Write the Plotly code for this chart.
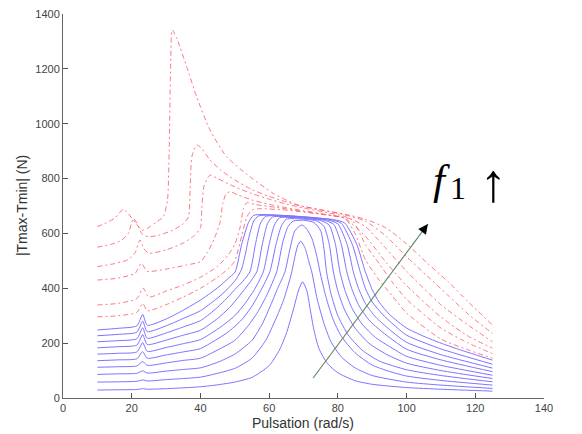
import plotly.graph_objects as go

# ---------------- data ----------------
x_ticks = [0, 20, 40, 60, 80, 100, 120, 140]
y_ticks = [0, 200, 400, 600, 800, 1000, 1200, 1400]

# solid curves (low forcing), S1 .. S10
s1_x = [10, 16, 21.5, 23.2, 24.5, 30, 35, 40, 45, 50, 55, 60, 63, 65, 67, 68.5, 69.7, 71, 72, 73, 74.5, 77, 80, 85, 90, 100, 110, 125]
s1_y = [29, 30, 31, 34, 32, 34, 37, 41, 48, 58, 75, 118, 175, 235, 320, 390, 424, 390, 320, 250, 180, 125, 92, 63, 50, 38, 32, 25]
s2_x = [10, 16, 21.5, 23.2, 24.5, 30, 35, 40, 45, 50, 55, 59, 62, 64, 65.5, 66.5, 67.5, 68.3, 69.2, 70.5, 71.5, 72.4, 74, 76, 78, 81, 85, 90, 100, 110, 125]
s2_y = [58, 59, 61, 66, 62, 67, 71, 76, 90, 108, 145, 210, 290, 350, 410, 455, 515, 555, 572, 545, 500, 460, 360, 270, 205, 150, 110, 82, 58, 47, 35]
s3_x = [10, 16, 21.5, 23.2, 24.5, 30, 35, 40, 45, 50, 55, 58, 60.5, 62.5, 64.6, 66, 67.5, 69.5, 71, 72.5, 74, 74.8, 76.5, 78.5, 81, 85, 90, 95, 100, 110, 125]
s3_y = [86, 88, 90, 99, 91, 98, 104, 110, 130, 160, 210, 270, 340, 400, 460, 540, 610, 631, 615, 580, 510, 460, 370, 290, 225, 165, 120, 97, 80, 64, 47]
s4_x = [10, 16, 21.5, 23.2, 24.5, 30, 35, 40, 45, 50, 54, 57, 59.5, 62.2, 64, 65.5, 67, 70, 73, 75, 76, 76.7, 78, 80, 83, 87, 92, 100, 110, 125]
s4_y = [112, 114, 117, 133, 119, 128, 137, 145, 175, 210, 265, 320, 380, 460, 570, 625, 645, 648, 640, 610, 540, 460, 380, 300, 230, 175, 135, 103, 82, 59]
s5_x = [10, 16, 21.5, 23.2, 24.5, 30, 35, 40, 44, 48, 52, 55, 57.5, 60.2, 62, 63.5, 65, 70, 74, 76, 77.5, 78.7, 80, 82, 85, 89, 94, 100, 110, 125]
s5_y = [136, 139, 143, 169, 145, 157, 168, 180, 208, 240, 285, 335, 390, 460, 560, 625, 652, 652, 645, 625, 560, 460, 390, 320, 255, 200, 160, 127, 100, 71]
s6_x = [10, 16, 21.5, 23.2, 24.5, 30, 35, 40, 46, 50, 53, 55.7, 58.3, 60, 61.5, 63, 70, 75, 77.5, 79.3, 80.6, 82, 84, 87, 91, 95, 100, 110, 125]
s6_y = [160, 163, 168, 202, 170, 184, 198, 213, 260, 300, 345, 395, 460, 560, 630, 657, 655, 647, 630, 560, 460, 395, 330, 270, 220, 188, 152, 119, 83]
s7_x = [10, 16, 21.5, 23.2, 24.5, 30, 35, 40, 45, 48.5, 51.5, 54, 56.4, 58, 59.5, 61, 70, 76, 78.8, 81, 82.6, 84, 86, 89, 93, 100, 110, 125]
s7_y = [183, 187, 193, 231, 195, 211, 229, 247, 290, 330, 375, 415, 460, 560, 635, 660, 657, 648, 633, 560, 460, 400, 340, 285, 240, 178, 139, 96]
s8_x = [10, 16, 21.5, 23.2, 24.5, 30, 35, 40, 44, 47, 50, 52.3, 54.4, 56, 57.5, 59, 70, 77, 80, 82.7, 84.5, 86, 88, 91, 95, 100, 110, 125]
s8_y = [205, 209, 216, 256, 218, 237, 259, 282, 320, 355, 395, 425, 460, 560, 638, 662, 659, 649, 635, 560, 460, 400, 345, 295, 250, 203, 158, 109]
s9_x = [10, 16, 21.5, 23.2, 24.5, 30, 35, 40, 43, 46, 48.5, 50.5, 52, 53, 54, 55.5, 57, 70, 78, 81, 84.2, 86.5, 88, 90, 93, 96, 100, 110, 125]
s9_y = [227, 232, 240, 280, 242, 263, 290, 318, 345, 375, 405, 435, 470, 520, 580, 645, 664, 661, 650, 637, 560, 460, 400, 350, 305, 270, 229, 179, 123]
s10_x = [10, 16, 21.5, 23.2, 24.5, 30, 35, 40, 43, 46, 48, 50.1, 52, 54, 55.5, 65, 72, 79, 82, 85.5, 88, 90, 92, 95, 100, 105, 110, 115, 120, 125]
s10_y = [248, 254, 263, 305, 265, 288, 320, 357, 383, 412, 435, 460, 560, 640, 666, 665, 658, 650, 638, 560, 460, 395, 350, 305, 255, 225, 200, 178, 158, 138]

# dash-dotted curves (high forcing), D1 .. D6
d1_x = [10, 16, 21.5, 23.2, 24.5, 30, 35, 40, 45, 48, 50, 52, 53.5, 55, 57, 65, 75, 82, 85, 88, 92, 96, 100, 110, 118, 125]
d1_y = [296, 300, 312, 345, 318, 340, 368, 400, 440, 470, 500, 590, 660, 685, 690, 685, 670, 655, 600, 505, 430, 370, 310, 215, 175, 145]
d2_x = [10, 16, 21.5, 23.3, 25, 30, 35, 40, 45, 48, 50, 51.5, 52.5, 53.5, 56, 62, 70, 78, 84, 88, 92, 96, 100, 110, 118, 125]
d2_y = [339, 345, 362, 401, 368, 390, 412, 440, 480, 520, 560, 620, 690, 712, 705, 695, 680, 665, 650, 560, 490, 420, 360, 255, 200, 162]
d3_x = [10, 16, 21, 22.8, 24.5, 30, 36, 40, 42, 44, 45.7, 46.5, 47.5, 48.6, 51, 55, 60, 65, 70, 76, 82, 88, 94, 100, 110, 118, 125]
d3_y = [430, 437, 455, 491, 462, 470, 485, 497, 530, 580, 640, 710, 745, 752, 740, 722, 706, 694, 683, 670, 655, 590, 495, 410, 295, 225, 182]
d4_x = [10, 15, 19, 21, 22.4, 23.5, 25, 30, 35, 38, 40, 40.4, 41, 42.8, 45, 50, 55, 60, 65, 70, 76, 82, 88, 94, 100, 110, 118, 125]
d4_y = [479, 490, 505, 530, 576, 545, 528, 540, 565, 590, 620, 690, 770, 813, 800, 770, 745, 725, 707, 693, 678, 662, 625, 545, 462, 340, 265, 205]
d5_x = [10, 14, 17, 19, 20.5, 21.8, 23, 25, 28, 32, 35, 36.5, 37, 37.5, 38.9, 40, 42.8, 46, 50, 55, 60, 65, 70, 76, 82, 88, 94, 100, 106, 112, 118, 125]
d5_y = [550, 560, 575, 600, 655, 630, 598, 588, 594, 612, 635, 660, 760, 880, 922, 915, 868, 830, 795, 760, 735, 715, 698, 684, 668, 645, 590, 515, 445, 375, 305, 235]
d6_x = [10, 12, 15, 17.6, 19, 21, 23, 25, 27, 29.2, 30.4, 30.9, 31.3, 31.8, 33, 34, 36, 38.9, 42.8, 47.6, 54.4, 61.2, 68, 75, 82, 88, 94, 100, 106, 112, 118, 125]
d6_y = [625, 635, 655, 688, 672, 640, 612, 622, 640, 661, 720, 900, 1200, 1342, 1315, 1281, 1208, 1098, 977, 880, 807, 746, 705, 686, 670, 652, 620, 562, 492, 425, 350, 266]

solid_curves = [(s1_x, s1_y), (s2_x, s2_y), (s3_x, s3_y), (s4_x, s4_y), (s5_x, s5_y),
                (s6_x, s6_y), (s7_x, s7_y), (s8_x, s8_y), (s9_x, s9_y), (s10_x, s10_y)]
dashed_curves = [(d1_x, d1_y), (d2_x, d2_y), (d3_x, d3_y), (d4_x, d4_y), (d5_x, d5_y), (d6_x, d6_y)]

# arrow "f1 increases": tail and head in data units
arrow_tail = (72.8, 73)
arrow_head = (106.2, 634)

# ---------------- figure ----------------
fig = go.Figure()

for cx, cy in dashed_curves:
    fig.add_trace(go.Scatter(x=cx, y=cy, mode="lines",
                             line=dict(color="rgba(255,95,110,0.85)", width=1,
                                       dash="5px,3px,2px,3px", shape="spline", smoothing=0.6),
                             hoverinfo="skip", showlegend=False))

for cx, cy in solid_curves:
    fig.add_trace(go.Scatter(x=cx, y=cy, mode="lines",
                             line=dict(color="rgb(125,115,255)", width=1,
                                       shape="spline", smoothing=0.6),
                             hoverinfo="skip", showlegend=False))

# arrow shaft
fig.add_trace(go.Scatter(x=[arrow_tail[0], arrow_head[0]], y=[arrow_tail[1], arrow_head[1]],
                         mode="lines", line=dict(color="rgb(95,135,95)", width=1.1),
                         hoverinfo="skip", showlegend=False))

font_ticks = dict(family="Liberation Sans, Arial, sans-serif", size=11, color="#444")
font_title = dict(family="Liberation Sans, Arial, sans-serif", size=14, color="#333")

fig.update_layout(
    width=582, height=434,
    margin=dict(l=63, r=38, t=14, b=36, autoexpand=False),
    paper_bgcolor="white", plot_bgcolor="white",
    showlegend=False,
    xaxis=dict(range=[0, 140], tickvals=x_ticks, ticktext=[str(v) for v in x_ticks],
               ticks="inside", ticklen=5, tickcolor="#555", showgrid=False, zeroline=False,
               showline=True, linecolor="#666", linewidth=1, tickfont=font_ticks, automargin=False),
    yaxis=dict(range=[0, 1400], tickvals=y_ticks, ticktext=[str(v) for v in y_ticks],
               ticks="inside", ticklen=5, tickcolor="#555", showgrid=False, zeroline=False,
               showline=True, linecolor="#666", linewidth=1, tickfont=font_ticks, automargin=False),
)

# axis titles as annotations for exact placement
fig.add_annotation(x=0.499, y=-0.066, xref="paper", yref="paper", text="Pulsation (rad/s)",
                   showarrow=False, font=font_title, xanchor="center", yanchor="middle")
fig.add_annotation(x=-0.085, y=0.5, xref="paper", yref="paper", text="|Tmax-Tmin| (N)",
                   showarrow=False, font=font_title, textangle=-90, xanchor="center", yanchor="middle")

# arrow head (black)
fig.add_annotation(x=arrow_head[0], y=arrow_head[1], ax=arrow_head[0] - 1.2, ay=arrow_head[1] - 20,
                   xref="x", yref="y", axref="x", ayref="y", text="", showarrow=True,
                   arrowhead=2, arrowsize=1.6, arrowwidth=1.2, arrowcolor="black")

# f1 label
fig.add_annotation(x=110.3, y=796, xref="x", yref="y", text="<i>f</i>", showarrow=False,
                   font=dict(family="Liberation Serif, DejaVu Serif, serif", size=43, color="black"))
fig.add_annotation(x=115.0, y=764, xref="x", yref="y", text="1", showarrow=False,
                   font=dict(family="Liberation Serif, DejaVu Serif, serif", size=32, color="black"))
fig.add_annotation(x=125.2, y=784, xref="x", yref="y", text="↑", showarrow=False,
                   font=dict(family="Liberation Serif, DejaVu Serif, serif", size=54, color="black"))

fig.write_html("out.html", config={"displayModeBar": False},
               post_script="document.body.style.margin='0';document.body.style.padding='0';")
